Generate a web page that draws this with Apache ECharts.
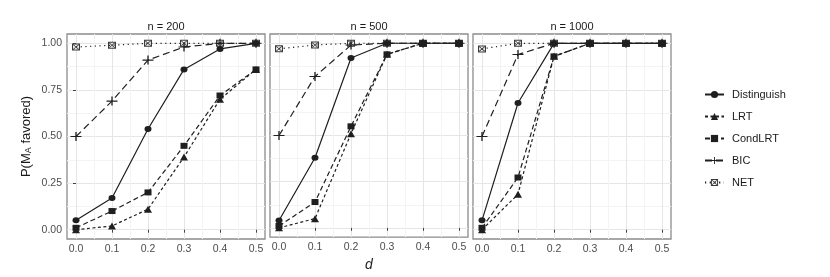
<!DOCTYPE html>
<html>
<head>
<meta charset="utf-8">
<script src="https://cdn.jsdelivr.net/npm/echarts@6/dist/echarts.min.js"></script>
<style>html,body{margin:0;padding:0;background:#fff}#c{width:830px;height:277px}</style>
</head>
<body>
<div id="c"></div>
<script>
const dValues = [0, 0.1, 0.2, 0.3, 0.4, 0.5];
const xTicks = [0, 0.1, 0.2, 0.3, 0.4, 0.5];
const xMinor = [0.05, 0.15, 0.25, 0.35, 0.45];
const yTicks = [0, 0.25, 0.5, 0.75, 1];
const yMinor = [0.125, 0.375, 0.625, 0.875];
const panelTitles = ['n = 200', 'n = 500', 'n = 1000'];
const methods = ['Distinguish', 'LRT', 'CondLRT', 'BIC', 'NET'];

const distinguish200 = [0.05, 0.17, 0.54, 0.86, 0.97, 1.00];
const lrt200         = [0.00, 0.02, 0.11, 0.39, 0.70, 0.86];
const condlrt200     = [0.01, 0.10, 0.20, 0.45, 0.72, 0.86];
const bic200         = [0.50, 0.69, 0.91, 0.98, 1.00, 1.00];
const net200         = [0.98, 0.99, 1.00, 1.00, 1.00, 1.00];

const distinguish500 = [0.04, 0.38, 0.92, 1.00, 1.00, 1.00];
const lrt500         = [0.00, 0.05, 0.51, 0.94, 1.00, 1.00];
const condlrt500     = [0.01, 0.14, 0.55, 0.94, 1.00, 1.00];
const bic500         = [0.50, 0.82, 0.99, 1.00, 1.00, 1.00];
const net500         = [0.97, 0.99, 1.00, 1.00, 1.00, 1.00];

const distinguish1000 = [0.05, 0.68, 1.00, 1.00, 1.00, 1.00];
const lrt1000         = [0.00, 0.19, 0.93, 1.00, 1.00, 1.00];
const condlrt1000     = [0.01, 0.28, 0.93, 1.00, 1.00, 1.00];
const bic1000         = [0.50, 0.94, 1.00, 1.00, 1.00, 1.00];
const net1000         = [0.97, 1.00, 1.00, 1.00, 1.00, 1.00];

const panelData = [
  [distinguish200, lrt200, condlrt200, bic200, net200],
  [distinguish500, lrt500, condlrt500, bic500, net500],
  [distinguish1000, lrt1000, condlrt1000, bic1000, net1000]
];

const INK = '#1f1f1f';
const FONT = 'Liberation Sans, Arial, sans-serif';
const plusPath = 'path://M4.4,0H5.6V10H4.4Z M0,4.4H10V5.6H0Z';
const netPath = 'path://M0,0H10V10H0Z M1.4,1.4V8.6H8.6V1.4Z M1.4,2.2L2.2,1.4L8.6,7.8L7.8,8.6Z M7.8,1.4L8.6,2.2L2.2,8.6L1.4,7.8Z';
const styles = {
  Distinguish: {symbol: 'circle', symbolSize: [7, 6], type: 'solid'},
  LRT: {symbol: 'triangle', symbolSize: [8, 7], type: [3, 2.5]},
  CondLRT: {symbol: 'rect', symbolSize: [7, 6], type: [5, 3]},
  BIC: {symbol: plusPath, symbolSize: [11, 9], type: [7, 4]},
  NET: {symbol: netPath, symbolSize: [8, 7], type: [1.2, 3.5]}
};

const panelLeft = [67, 270, 473];
const grids = [], xAxes = [], yAxes = [], series = [];
for (let p = 0; p < 3; p++) {
  grids.push({left: panelLeft[p], top: 34, width: 198, height: 205, show: true,
    borderColor: '#8c8c8c', borderWidth: 1.3, backgroundColor: '#fff'});
  xAxes.push({gridIndex: p, type: 'value', min: -0.025, max: 0.525, position: 'top',
    name: panelTitles[p], nameLocation: 'middle', nameGap: 2,
    nameTextStyle: {fontFamily: FONT, fontSize: 11, color: '#1a1a1a'},
    axisLine: {show: false}, axisTick: {show: false, customValues: xMinor},
    axisLabel: {show: false, customValues: xMinor},
    splitLine: {show: true, lineStyle: {color: '#f4f4f4', width: 1}}});
  xAxes.push({gridIndex: p, type: 'value', min: -0.025, max: 0.525, position: 'bottom',
    name: p === 1 ? 'd' : '', nameLocation: 'middle', nameGap: 12,
    nameTextStyle: {fontFamily: FONT, fontSize: 14, fontStyle: 'italic', color: '#1a1a1a'},
    axisLine: {show: false},
    axisTick: {show: true, customValues: xTicks, length: 3, lineStyle: {color: '#444'}},
    axisLabel: {customValues: xTicks, formatter: v => v.toFixed(1), color: '#4d4d4d',
      fontFamily: FONT, fontSize: 10.5, margin: 5},
    splitLine: {show: true, lineStyle: {color: '#e6e6e6', width: 1}}});
  yAxes.push({gridIndex: p, type: 'value', min: -0.05, max: 1.05, position: 'right',
    axisLine: {show: false}, axisTick: {show: false, customValues: yMinor},
    axisLabel: {show: false, customValues: yMinor},
    splitLine: {show: true, lineStyle: {color: '#f4f4f4', width: 1}}});
  yAxes.push({gridIndex: p, type: 'value', min: -0.05, max: 1.05, position: 'left',
    name: p === 0 ? 'P(M{s|A} favored)' : '', nameLocation: 'middle', nameGap: 34,
    nameTextStyle: {fontFamily: FONT, fontSize: 13, color: '#1a1a1a',
      rich: {s: {fontFamily: FONT, fontSize: 9, color: '#1a1a1a', padding: [0, 0, -5, 0]}}},
    axisLine: {show: false},
    axisTick: {show: p === 0, customValues: yTicks, length: 3, lineStyle: {color: '#444'}},
    axisLabel: {show: p === 0, customValues: yTicks, formatter: v => v.toFixed(2),
      color: '#4d4d4d', fontFamily: FONT, fontSize: 10.5, margin: 5},
    splitLine: {show: true, lineStyle: {color: '#e6e6e6', width: 1}}});
  methods.forEach((m, k) => {
    const st = styles[m];
    series.push({
      name: m, type: 'line', xAxisIndex: p * 2 + 1, yAxisIndex: p * 2 + 1,
      data: dValues.map((d, i) => [d, panelData[p][k][i]]),
      symbol: st.symbol, symbolSize: st.symbolSize, showAllSymbol: true,
      lineStyle: {color: INK, width: 1.2, type: st.type},
      itemStyle: {color: m === 'NET' ? '#3a3a3a' : INK},
      emphasis: {disabled: true}, animation: false, z: 10 - k
    });
  });
}

const chart = echarts.init(document.getElementById('c'), null, {renderer: 'canvas'});
chart.setOption({
  animation: false,
  backgroundColor: '#fff',
  grid: grids, xAxis: xAxes, yAxis: yAxes, series: series,
  legend: {data: methods, orient: 'vertical', left: 699, top: 'middle',
    itemWidth: 19, itemHeight: 9, itemGap: 11,
    textStyle: {fontFamily: FONT, fontSize: 11, color: '#1a1a1a', padding: [0, 0, 0, 3]}}
});
</script>
</body>
</html>
